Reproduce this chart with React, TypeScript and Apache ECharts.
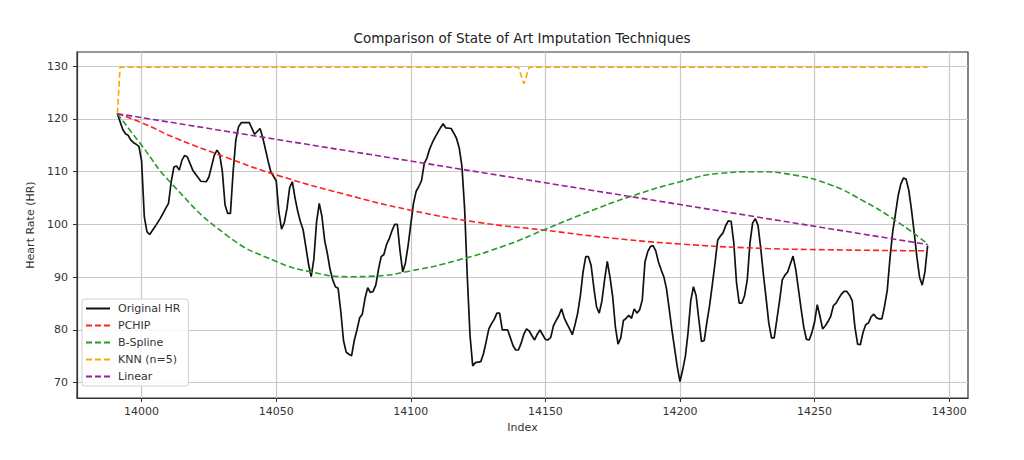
import React, { useEffect, useRef } from "react";
import * as echarts from "echarts";

const hrIndex = [
  13991, 13992, 13993, 13994, 13995, 13996, 13997, 13998, 13999, 14000, 14001, 14002, 14003, 14005, 14007, 14009,
  14010, 14011, 14012, 14013, 14014, 14015, 14016, 14017, 14019, 14022, 14024, 14025, 14027, 14028, 14029, 14030,
  14031, 14032, 14033, 14034, 14035, 14036, 14037, 14040, 14042, 14044, 14045, 14047, 14048, 14050, 14051, 14052,
  14053, 14054, 14055, 14056, 14057, 14058, 14059, 14060, 14061, 14062, 14063, 14064, 14065, 14066, 14067, 14068,
  14069, 14070, 14071, 14072, 14073, 14074, 14075, 14076, 14077, 14078, 14079, 14080, 14081, 14082, 14083, 14084,
  14085, 14086, 14087, 14088, 14089, 14090, 14091, 14092, 14093, 14094, 14095, 14096, 14097, 14098, 14099, 14100,
  14101, 14102, 14103, 14104, 14105, 14106, 14107, 14108, 14109, 14110, 14111, 14112, 14113, 14115, 14116, 14117,
  14118, 14119, 14120, 14121, 14122, 14123, 14124, 14126, 14127, 14128, 14129, 14130, 14131, 14132, 14133, 14134,
  14136, 14137, 14138, 14139, 14140, 14141, 14142, 14143, 14144, 14145, 14146, 14147, 14148, 14149, 14150, 14151,
  14152, 14153, 14154, 14155, 14156, 14157, 14158, 14159, 14160, 14161, 14162, 14163, 14164, 14165, 14166, 14167,
  14168, 14169, 14170, 14171, 14172, 14173, 14174, 14175, 14176, 14177, 14178, 14179, 14180, 14181, 14182, 14183,
  14184, 14185, 14186, 14187, 14188, 14189, 14190, 14191, 14192, 14193, 14194, 14195, 14196, 14197, 14198, 14199,
  14200, 14201, 14202, 14203, 14204, 14205, 14206, 14207, 14208, 14209, 14210, 14211, 14212, 14213, 14214, 14215,
  14216, 14217, 14218, 14219, 14220, 14221, 14222, 14223, 14224, 14225, 14226, 14227, 14228, 14229, 14230, 14231,
  14232, 14233, 14234, 14235, 14236, 14237, 14238, 14239, 14240, 14241, 14242, 14243, 14244, 14245, 14246, 14247,
  14248, 14249, 14250, 14251, 14252, 14253, 14254, 14255, 14256, 14257, 14258, 14259, 14260, 14261, 14262, 14263,
  14264, 14265, 14266, 14267, 14268, 14269, 14270, 14271, 14272, 14273, 14274, 14275, 14276, 14277, 14278, 14279,
  14280, 14281, 14282, 14283, 14284, 14285, 14286, 14287, 14288, 14289, 14290, 14291, 14292,
];

const hrValues = [
  121, 119.5, 118, 117.2, 116.9, 116, 115.5, 115.2, 114.8, 112, 101.5, 98.6, 98.1, 99.6, 101.2, 103.1,
  104, 108.1, 110.9, 111.1, 110.3, 112.2, 113.1, 112.8, 110.3, 108.2, 108.1, 109, 113.1, 114.1, 113.3, 110,
  103.7, 102.1, 102.1, 110, 116, 118.5, 119.3, 119.3, 117.1, 118.2, 116.5, 112, 110, 108.3, 102.4, 99.1,
  100.3, 103, 107, 108.1, 105, 102.5, 100.5, 99, 95.8, 92.5, 90.1, 93.5, 100.5, 104, 101.5, 97,
  94.5, 91.5, 89.5, 88.2, 87.9, 83.5, 78, 75.8, 75.4, 75.1, 78, 80, 82.3, 83, 86, 88,
  87.1, 87.3, 88.5, 91.5, 93.9, 94.3, 96.2, 97.3, 98.8, 100, 100, 95, 91, 92.7, 96, 100,
  104, 106.3, 107.2, 108.3, 111.6, 112.6, 114.3, 115.5, 116.5, 117.4, 118.3, 119.1, 118.3, 118.2, 117.3, 116.3,
  114.5, 111, 103, 90, 79, 73.2, 73.8, 74, 75.5, 77.8, 80.2, 81.2, 82, 83.2, 83.2, 80,
  80, 78.5, 77, 76.2, 76.2, 77.5, 79.2, 80.2, 79.8, 78.9, 78.1, 79.2, 80, 79.1, 78.2, 78.1,
  78.6, 80.8, 81.8, 82.7, 84, 82.3, 81.2, 80.2, 79.1, 81, 83.2, 86.5, 91, 93.9, 93.9, 92.2,
  88, 84.4, 83.2, 85.5, 89.5, 93, 90, 86.3, 80.6, 77.3, 78.5, 81.8, 82.2, 82.8, 82.2, 84,
  83.2, 83.8, 85.7, 92.9, 94.8, 95.8, 96, 95, 92.9, 91.4, 90.1, 87.8, 84, 80, 76.5, 73,
  70.2, 72.4, 75, 79.5, 85.5, 88.2, 86.5, 82, 77.8, 78, 81.5, 84.6, 88.5, 92.6, 97, 97.8,
  98.4, 99.8, 100.7, 100.6, 96.5, 89, 85.1, 85.1, 86.5, 89.5, 96.5, 100.3, 101.1, 99.8, 95.5, 90.5,
  86, 81.3, 78.5, 78.5, 82, 85.5, 89.5, 90.4, 91, 92.5, 94, 91.5, 87.8, 84, 80.5, 78.2,
  78.1, 79.5, 81.5, 84.8, 82.6, 80.2, 80.8, 81.6, 82.6, 84.6, 85.1, 86, 86.8, 87.3, 87.3, 86.6,
  85.5, 80.5, 77.3, 77.2, 79.5, 81, 81.3, 82.5, 83, 82.3, 82.1, 82.1, 84.5, 87.5, 93.5, 98.5,
  101.8, 105.3, 107.6, 108.8, 108.6, 106.5, 102.8, 98.5, 93.9, 90, 88.5, 91, 96,
];

const pchipIndex = [13991, 14000, 14013, 14031, 14050, 14075, 14100, 14125, 14150, 14175, 14200, 14229, 14256, 14292];
const pchipValues = [121, 119.3, 116.3, 112.8, 109.4, 105.8, 102.7, 100.4, 98.9, 97.4, 96.3, 95.5, 95.2, 95.0];

const bsplineIndex = [
  13991, 14000, 14011, 14032, 14050, 14063, 14077, 14086, 14100, 14118, 14135, 14150, 14165, 14181, 14200, 14215,
  14228, 14242, 14256, 14268, 14280, 14292,
];
const bsplineValues = [
  121, 115, 107.8, 97.8, 93, 91, 90.1, 90.2, 91.2, 93.3, 96, 99.1, 102.2, 105.2, 108.1, 109.7,
  110, 109.4, 107.5, 104.5, 100.8, 96.3,
];

const knnIndex = [13991, 13992, 14140, 14142, 14144, 14292];
const knnValues = [121, 129.8, 129.8, 126.7, 129.8, 129.8];

const linearIndex = [13991, 14292];
const linearValues = [121, 96.2];

const xTicks = [14000, 14050, 14100, 14150, 14200, 14250, 14300];
const yTicks = [70, 80, 90, 100, 110, 120, 130];

const seriesNames = ["Original HR", "PCHIP", "B-Spline", "KNN (n=5)", "Linear"];

const pairs = (xs: number[], ys: number[]) => xs.map((x, i) => [x, ys[i]]);

const FONT = "DejaVu Sans";

export default function App() {
  const ref = useRef<HTMLDivElement>(null);

  useEffect(() => {
    if (!ref.current) return;
    const chart = echarts.init(ref.current, undefined, { renderer: "svg" });
    const dash = [6, 3];
    chart.setOption({
      animation: false,
      backgroundColor: "#ffffff",
      textStyle: { fontFamily: FONT },
      graphic: [
        {
          type: "text",
          x: 522,
          y: 38,
          style: {
            text: "Comparison of State of Art Imputation Techniques",
            font: `13.5px ${FONT}`,
            fill: "#222",
            textAlign: "center",
            textVerticalAlign: "middle",
          },
        },
      ],
      grid: {
        left: 77,
        top: 52,
        width: 891,
        height: 346,
        show: true,
        borderColor: "#333",
        borderWidth: 1.2,
        backgroundColor: "transparent",
        containLabel: false,
      },
      legend: {
        orient: "vertical",
        left: 82,
        top: 299,
        padding: [4, 8, 4, 3],
        itemWidth: 24,
        itemHeight: 12,
        itemGap: 6,
        backgroundColor: "rgba(255,255,255,0.85)",
        borderColor: "#d0d0d0",
        borderWidth: 1,
        borderRadius: 3,
        itemStyle: { opacity: 0, borderWidth: 0 },
        data: seriesNames,
        textStyle: { fontFamily: FONT, fontSize: 11, color: "#333", padding: [0, 0, 0, 3] },
      },
      xAxis: {
        type: "value",
        min: 13976,
        max: 14307,
        minInterval: 50,
        maxInterval: 50,
        name: "Index",
        nameLocation: "middle",
        nameGap: 24,
        nameTextStyle: { fontFamily: FONT, fontSize: 11, color: "#333" },
        axisLine: { show: true, onZero: false, lineStyle: { color: "#333", width: 1.2 } },
        axisTick: { show: true, customValues: xTicks, length: 4, lineStyle: { color: "#333", width: 1 } },
        axisLabel: {
          customValues: xTicks,
          margin: 8,
          fontFamily: FONT,
          fontSize: 11,
          color: "#333",
          formatter: (v: number) => String(v),
        },
        splitLine: { show: true, lineStyle: { color: "#c8c8c8", width: 1.2 } },
      },
      yAxis: {
        type: "value",
        min: 67.1,
        max: 132.7,
        minInterval: 10,
        maxInterval: 10,
        name: "Heart Rate (HR)",
        nameLocation: "middle",
        nameGap: 36,
        nameTextStyle: { fontFamily: FONT, fontSize: 11, color: "#333" },
        axisLine: { show: true, onZero: false, lineStyle: { color: "#333", width: 1.2 } },
        axisTick: { show: true, customValues: yTicks, length: 4, lineStyle: { color: "#333", width: 1 } },
        axisLabel: {
          customValues: yTicks,
          margin: 9,
          fontFamily: FONT,
          fontSize: 11,
          color: "#333",
          formatter: (v: number) => String(v),
        },
        splitLine: { show: true, lineStyle: { color: "#c8c8c8", width: 1.2 } },
      },
      series: [
        {
          name: seriesNames[0],
          type: "line",
          data: pairs(hrIndex, hrValues),
          showSymbol: false,
          symbol: "none",
          lineStyle: { color: "#111", width: 1.7 },
          itemStyle: { color: "#111" },
        },
        {
          name: seriesNames[1],
          type: "line",
          data: pairs(pchipIndex, pchipValues),
          smooth: 0.5,
          showSymbol: false,
          symbol: "none",
          lineStyle: { color: "#ff2020", width: 1.6, type: dash },
          itemStyle: { color: "#ff2020" },
        },
        {
          name: seriesNames[2],
          type: "line",
          data: pairs(bsplineIndex, bsplineValues),
          smooth: 0.5,
          showSymbol: false,
          symbol: "none",
          lineStyle: { color: "#2a9a2a", width: 1.6, type: dash },
          itemStyle: { color: "#2a9a2a" },
        },
        {
          name: seriesNames[3],
          type: "line",
          data: pairs(knnIndex, knnValues),
          showSymbol: false,
          symbol: "none",
          lineStyle: { color: "#ffa500", width: 1.6, type: dash },
          itemStyle: { color: "#ffa500" },
        },
        {
          name: seriesNames[4],
          type: "line",
          data: pairs(linearIndex, linearValues),
          showSymbol: false,
          symbol: "none",
          lineStyle: { color: "#9a1f9a", width: 1.6, type: dash },
          itemStyle: { color: "#9a1f9a" },
        },
      ],
    });
    return () => chart.dispose();
  }, []);

  return (
    <div
      ref={ref}
      style={{ position: "absolute", left: 0, top: 0, width: 1024, height: 460 }}
    />
  );
}
